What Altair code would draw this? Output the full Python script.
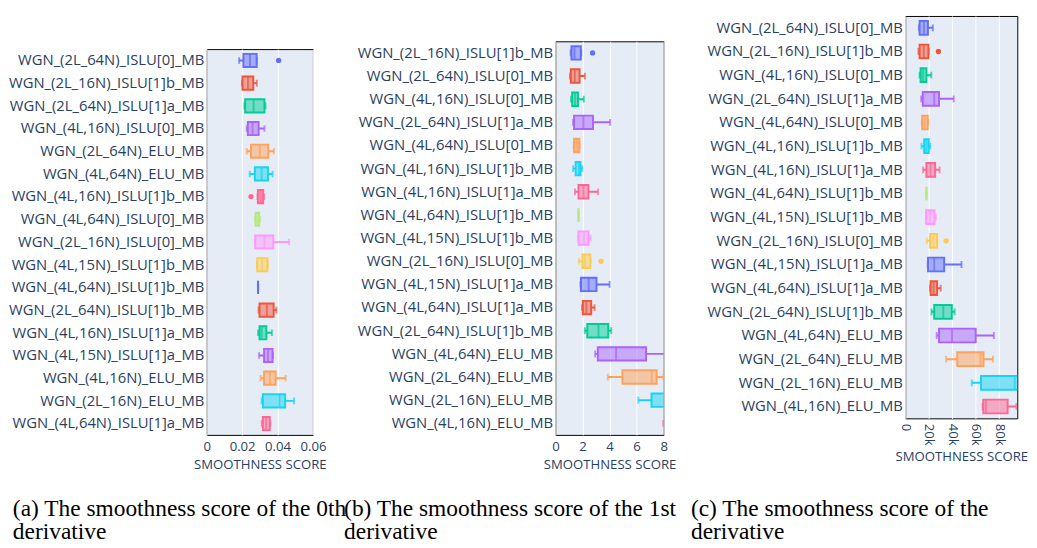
import altair as alt
import pandas as pd

palette = ["#636efa", "#EF553B", "#00cc96", "#ab63fa", "#FFA15A",
           "#19d3f3", "#FF6692", "#B6E880", "#FF97FF", "#FECB52"]

# ---------------- panel (a): 0th derivative ----------------
A_names = [
    "WGN_(2L_64N)_ISLU[0]_MB", "WGN_(2L_16N)_ISLU[1]b_MB", "WGN_(2L_64N)_ISLU[1]a_MB",
    "WGN_(4L,16N)_ISLU[0]_MB", "WGN_(2L_64N)_ELU_MB", "WGN_(4L,64N)_ELU_MB",
    "WGN_(4L,16N)_ISLU[1]b_MB", "WGN_(4L,64N)_ISLU[0]_MB", "WGN_(2L_16N)_ISLU[0]_MB",
    "WGN_(4L,15N)_ISLU[1]b_MB", "WGN_(4L,64N)_ISLU[1]b_MB", "WGN_(2L_64N)_ISLU[1]b_MB",
    "WGN_(4L,16N)_ISLU[1]a_MB", "WGN_(4L,15N)_ISLU[1]a_MB", "WGN_(4L,16N)_ELU_MB",
    "WGN_(2L_16N)_ELU_MB", "WGN_(4L,64N)_ISLU[1]a_MB",
]
A_low = [0.0183, 0.0199, 0.0213, 0.0226, 0.0226, 0.0243, 0.0287, 0.0273, 0.0273,
         0.0284, 0.0290, 0.0293, 0.0290, 0.0296, 0.0304, 0.0310, 0.0311]
A_q1 = [0.0207, 0.0202, 0.0217, 0.0232, 0.0250, 0.0272, 0.0289, 0.0276, 0.0274,
        0.0285, 0.0290, 0.0298, 0.0298, 0.0324, 0.0324, 0.0317, 0.0317]
A_med = [0.0244, 0.0233, 0.0265, 0.0259, 0.0300, 0.0310, 0.0304, 0.0287, 0.0326,
         0.0313, 0.0290, 0.0340, 0.0310, 0.0346, 0.0357, 0.0411, 0.0335]
A_q3 = [0.0282, 0.0263, 0.0326, 0.0293, 0.0348, 0.0346, 0.0319, 0.0296, 0.0376,
        0.0343, 0.0290, 0.0378, 0.0337, 0.0372, 0.0389, 0.0443, 0.0356]
A_high = [0.0283, 0.0283, 0.0332, 0.0326, 0.0379, 0.0372, 0.0324, 0.0302, 0.0465,
          0.0345, 0.0290, 0.0393, 0.0368, 0.0374, 0.0446, 0.0493, 0.0359]
A_out_row = [0, 6]
A_out_val = [0.0406, 0.0250]
A_ticks = [0, 0.02, 0.04, 0.06]

# ---------------- panel (b): 1st derivative ----------------
B_names = [
    "WGN_(2L_16N)_ISLU[1]b_MB", "WGN_(2L_64N)_ISLU[0]_MB", "WGN_(4L,16N)_ISLU[0]_MB",
    "WGN_(2L_64N)_ISLU[1]a_MB", "WGN_(4L,64N)_ISLU[0]_MB", "WGN_(4L,16N)_ISLU[1]b_MB",
    "WGN_(4L,16N)_ISLU[1]a_MB", "WGN_(4L,64N)_ISLU[1]b_MB", "WGN_(4L,15N)_ISLU[1]b_MB",
    "WGN_(2L_16N)_ISLU[0]_MB", "WGN_(4L,15N)_ISLU[1]a_MB", "WGN_(4L,64N)_ISLU[1]a_MB",
    "WGN_(2L_64N)_ISLU[1]b_MB", "WGN_(4L,64N)_ELU_MB", "WGN_(2L_64N)_ELU_MB",
    "WGN_(2L_16N)_ELU_MB", "WGN_(4L,16N)_ELU_MB",
]
B_low = [1.12, 1.07, 1.15, 1.30, 1.35, 1.30, 1.44, 1.70, 1.68, 1.73, 1.85, 1.97,
         2.17, 2.93, 3.87, 6.13, 7.97]
B_q1 = [1.18, 1.13, 1.23, 1.37, 1.37, 1.49, 1.70, 1.70, 1.70, 1.99, 1.88, 2.02,
        2.35, 3.13, 4.95, 7.10, 8.50]
B_med = [1.40, 1.43, 1.45, 2.06, 1.60, 1.73, 2.06, 1.70, 2.10, 2.17, 2.45, 2.28,
         3.18, 4.48, 7.12, 8.60, 9.00]
B_q3 = [1.87, 1.78, 1.66, 2.77, 1.76, 1.85, 2.43, 1.70, 2.45, 2.57, 3.03, 2.64,
        3.90, 6.70, 7.48, 9.50, 10.00]
B_high = [1.90, 2.17, 2.09, 4.04, 1.78, 1.97, 3.15, 1.70, 2.60, 2.60, 4.00, 2.89,
          4.12, 8.50, 7.98, 10.50, 11.00]
B_out_row = [0, 9]
B_out_val = [2.74, 3.37]
B_ticks = [0, 2, 4, 6, 8]

# ---------------- panel (c): 2nd derivative ----------------
C_names = [
    "WGN_(2L_64N)_ISLU[0]_MB", "WGN_(2L_16N)_ISLU[1]b_MB", "WGN_(4L,16N)_ISLU[0]_MB",
    "WGN_(2L_64N)_ISLU[1]a_MB", "WGN_(4L,64N)_ISLU[0]_MB", "WGN_(4L,16N)_ISLU[1]b_MB",
    "WGN_(4L,16N)_ISLU[1]a_MB", "WGN_(4L,64N)_ISLU[1]b_MB", "WGN_(4L,15N)_ISLU[1]b_MB",
    "WGN_(2L_16N)_ISLU[0]_MB", "WGN_(4L,15N)_ISLU[1]a_MB", "WGN_(4L,64N)_ISLU[1]a_MB",
    "WGN_(2L_64N)_ISLU[1]b_MB", "WGN_(4L,64N)_ELU_MB", "WGN_(2L_64N)_ELU_MB",
    "WGN_(2L_16N)_ELU_MB", "WGN_(4L,16N)_ELU_MB",
]
C_low = [11600, 11200, 12200, 13550, 14150, 13850, 15200, 18000, 17650, 18250,
         19100, 21050, 22400, 26800, 34800, 56650, 65800]
C_q1 = [12200, 12200, 13050, 14900, 14450, 16100, 18000, 18000, 17750, 21050,
        19400, 21550, 24650, 28750, 44250, 64450, 66400]
C_med = [16000, 15800, 15200, 24650, 16600, 18000, 21550, 18000, 20950, 23900,
         24650, 24100, 32350, 39800, 64150, 93200, 68650]
C_q3 = [19300, 19700, 18000, 28750, 19100, 20000, 25450, 18000, 24850, 27100,
        33150, 27100, 39600, 59950, 66600, 98500, 87150]
C_high = [23500, 20000, 22150, 41250, 19500, 21350, 29250, 18000, 26050, 27100,
          47850, 30150, 42000, 75450, 74700, 102000, 94600]
C_out_row = [1, 9]
C_out_val = [28200, 34800]
C_ticks = [0, 20000, 40000, 60000, 80000]

captions = [
    "(a) The smoothness score of the 0th\nderivative",
    "(b) The smoothness score of the 1st\nderivative",
    "(c) The smoothness score of the 2nd\nderivative",
]

FONT = "Open Sans"
TXT = "#2a3f5f"
NOVIEW = alt.ViewBackground(fill="transparent", stroke="transparent")
color_scale = alt.Scale(domain=list(range(17)),
                        range=[palette[i % 10] for i in range(17)])


def spacer(h):
    return alt.Chart(pd.DataFrame({"a": [0]})).mark_rule(
        strokeOpacity=0, strokeWidth=0.1).encode(
        x=alt.value(0), y=alt.value(0), y2=alt.value(1)
    ).properties(width=1, height=h, view=NOVIEW)


def panel(names, low, q1, med, q3, high, out_row, out_val, domain, ticks,
          label_expr, width, height, label_angle, top_space):
    n = len(names)
    df = pd.DataFrame({"name": names, "idx": list(range(n)), "low": low,
                       "q1": q1, "med": med, "q3": q3, "high": high})
    odf = pd.DataFrame({"name": [names[i] for i in out_row], "idx": out_row,
                        "val": out_val})
    step = height / n
    pin = 0.42
    box_h = step * (1 - pin)
    yenc = alt.Y("name:N", sort=names, title=None,
                 scale=alt.Scale(type="band", paddingInner=pin,
                                 paddingOuter=pin / 2, align=0.5),
                 axis=alt.Axis(ticks=False, domain=False, grid=False,
                               labelFont=FONT, labelFontSize=15.2,
                               labelColor=TXT, labelPadding=3, labelLimit=400))
    xscale = alt.Scale(domain=domain, nice=False, zero=False)
    xaxis = alt.Axis(values=ticks, labelExpr=label_expr, title="SMOOTHNESS SCORE",
                     labelAngle=label_angle, ticks=False, domain=False,
                     labelOverlap=False, labelFlush=False,
                     grid=True, gridColor="white", gridWidth=1,
                     labelFont=FONT, labelFontSize=13.5, labelColor=TXT,
                     labelPadding=5, titleFont=FONT, titleFontSize=13.5,
                     titleFontWeight="normal", titleColor=TXT, titlePadding=5)

    def X(f):
        return alt.X(f"{f}:Q", scale=xscale, axis=xaxis)

    col = alt.Color("idx:O", scale=color_scale, legend=None)
    base = alt.Chart(df)
    box = base.mark_bar(fillOpacity=0.5, strokeWidth=2, clip=True).encode(
        x=X("q1"), x2="q3", y=yenc, color=col,
        stroke=alt.Stroke("idx:O", scale=color_scale, legend=None))
    wlo = base.mark_rule(strokeWidth=2, clip=True).encode(
        x=X("low"), x2="q1", y=yenc, color=col)
    whi = base.mark_rule(strokeWidth=2, clip=True).encode(
        x=X("q3"), x2="high", y=yenc, color=col)
    cap_lo = base.mark_tick(thickness=2, size=box_h * 0.5, clip=True).encode(
        x=X("low"), y=yenc, color=col)
    cap_hi = base.mark_tick(thickness=2, size=box_h * 0.5, clip=True).encode(
        x=X("high"), y=yenc, color=col)
    medt = base.mark_tick(thickness=2, size=box_h, clip=True).encode(
        x=X("med"), y=yenc, color=col)
    outl = alt.Chart(odf).mark_circle(size=30, opacity=1, clip=True).encode(
        x=X("val"), y=yenc, color=col)
    layered = alt.layer(box, wlo, whi, cap_lo, cap_hi, medt, outl).properties(
        width=width, height=height,
        view=alt.ViewBackground(fill="#E5ECF6", stroke="#000000", strokeWidth=1))
    if top_space > 0:
        return alt.vconcat(spacer(top_space), layered, spacing=0)
    return layered


pa = panel(A_names, A_low, A_q1, A_med, A_q3, A_high, A_out_row, A_out_val,
           [0, 0.06], A_ticks, "format(datum.value, '~g')", 109, 396, 0, 32)
pb = panel(B_names, B_low, B_q1, B_med, B_q3, B_high, B_out_row, B_out_val,
           [0, 8], B_ticks, "format(datum.value, '~g')", 111, 404, 0, 24)
pc = panel(C_names, C_low, C_q1, C_med, C_q3, C_high, C_out_row, C_out_val,
           [0, 95400], C_ticks,
           "datum.value == 0 ? '0' : format(datum.value / 1000, 'd') + 'k'",
           115, 413, 90, 0)

# caption row: its origin sits under the plot area of panel (a)
cap_df = pd.DataFrame({"t": captions, "k": [0, 1, 2]})
cap_kw = dict(align="left", baseline="alphabetic", font="Liberation Serif",
              fontSize=24, lineBreak="\n", lineHeight=24, color="black")
cap_base = alt.Chart(cap_df)
cap_layers = []
for k, (xoff, lim) in enumerate([(-199, 0), (141, 0), (497, 323)]):
    kw = dict(cap_kw)
    if lim:
        kw["limit"] = lim
        kw["ellipsis"] = " "
    cap_layers.append(
        cap_base.transform_filter(alt.datum.k == k).mark_text(**kw).encode(
            x=alt.value(xoff), y=alt.value(44), text="t:N"))
caps = alt.layer(*cap_layers).properties(width=800, height=60, view=NOVIEW)

chart = alt.vconcat(alt.hconcat(pa, pb, pc, spacing=30), caps, spacing=0).properties(
    padding=0
).configure_view(fill="#E5ECF6", stroke="transparent").configure(font=FONT)

chart.save("out.html", embed_options={"renderer": "svg", "actions": False})
